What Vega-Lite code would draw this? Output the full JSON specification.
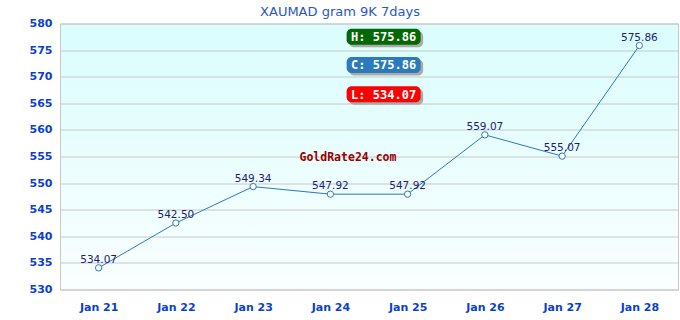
{
  "$schema": "https://vega.github.io/schema/vega-lite/v6.json",
  "width": 618,
  "height": 266,
  "autosize": {"type": "none"},
  "padding": {"left": 60, "top": 23.5, "right": 2, "bottom": 30.5},
  "background": "white",
  "title": {
    "text": "XAUMAD gram 9K 7days",
    "font": "DejaVu Sans",
    "fontSize": 13,
    "fontWeight": "normal",
    "color": "#2a56c6",
    "anchor": "middle",
    "dx": -29,
    "offset": -1
  },
  "config": {
    "view": {
      "stroke": "#c8c8c8",
      "strokeWidth": 1,
      "fill": {
        "gradient": "linear",
        "x1": 0, "y1": 0, "x2": 0, "y2": 1,
        "stops": [
          {"offset": 0, "color": "#dafdfd"},
          {"offset": 1, "color": "#fafefe"}
        ]
      }
    },
    "axis": {
      "labelFont": "DejaVu Sans",
      "labelFontSize": 11,
      "labelFontWeight": "bold",
      "labelColor": "#0b3fcc",
      "domain": false,
      "gridColor": "#c8c8c8",
      "gridOpacity": 1,
      "ticks": false,
      "title": null
    },
    "axisX": {"grid": false, "labelAngle": 0, "labelPadding": 12},
    "axisY": {"grid": true, "labelPadding": 8}
  },
  "resolve": {"axis": {"x": "independent", "y": "independent"}},
  "datasets": {
    "prices": [
      {"date": "Jan 21", "price": 534.07},
      {"date": "Jan 22", "price": 542.50},
      {"date": "Jan 23", "price": 549.34},
      {"date": "Jan 24", "price": 547.92},
      {"date": "Jan 25", "price": 547.92},
      {"date": "Jan 26", "price": 559.07},
      {"date": "Jan 27", "price": 555.07},
      {"date": "Jan 28", "price": 575.86}
    ],
    "badges": [
      {"date": "Jan 25", "key": "H", "label": "H: 575.86"},
      {"date": "Jan 25", "key": "C", "label": "C: 575.86"},
      {"date": "Jan 25", "key": "L", "label": "L: 534.07"}
    ],
    "watermark": [{"date": "Jan 24", "label": "GoldRate24.com"}]
  },
  "layer": [
    {
      "data": {"name": "prices"},
      "encoding": {
        "x": {
          "field": "date",
          "type": "ordinal",
          "sort": null,
          "scale": {"type": "point", "padding": 0.5}
        },
        "y": {
          "field": "price",
          "type": "quantitative",
          "scale": {"domain": [530, 580], "nice": false, "zero": false},
          "axis": {"values": [530, 535, 540, 545, 550, 555, 560, 565, 570, 575, 580]}
        }
      },
      "layer": [
        {"mark": {"type": "line", "color": "#2a7ab8", "strokeWidth": 1}},
        {"mark": {"type": "point", "shape": "circle", "filled": true, "fill": "white", "stroke": "#2a7ab8", "strokeWidth": 1, "size": 40, "opacity": 1}},
        {
          "mark": {"type": "text", "baseline": "bottom", "dy": -3, "font": "DejaVu Sans", "fontSize": 10.5, "color": "#1c1c7a"},
          "encoding": {"text": {"field": "price", "type": "quantitative", "format": ".2f"}}
        }
      ]
    },
    {
      "data": {"name": "watermark"},
      "mark": {"type": "text", "font": "DejaVu Sans Mono", "fontWeight": "bold", "fontSize": 11.5, "color": "#990000", "dx": 17.6, "baseline": "middle"},
      "encoding": {
        "x": {"field": "date", "type": "ordinal", "sort": null, "axis": null},
        "y": {"datum": 554.8, "axis": null},
        "text": {"field": "label"}
      }
    },
    {
      "data": {"name": "badges"},
      "transform": [{"filter": "datum.key === 'H'"}],
      "encoding": {"x": {"field": "date", "type": "ordinal", "sort": null, "axis": null}, "y": {"datum": 577.5, "axis": null}},
      "layer": [
        {"mark": {"type": "rect", "width": 74, "height": 16, "cornerRadius": 5, "color": "#aaaaaa", "xOffset": -21.5, "yOffset": 2.5}},
        {"mark": {"type": "rect", "width": 74, "height": 16, "cornerRadius": 5, "color": "#036803", "xOffset": -24}},
        {"mark": {"type": "text", "font": "DejaVu Sans Mono", "fontWeight": "bold", "fontSize": 12, "color": "white", "baseline": "middle", "dx": -24, "dy": 0.5}, "encoding": {"text": {"field": "label"}}}
      ]
    },
    {
      "data": {"name": "badges"},
      "transform": [{"filter": "datum.key === 'C'"}],
      "encoding": {"x": {"field": "date", "type": "ordinal", "sort": null, "axis": null}, "y": {"datum": 572.2, "axis": null}},
      "layer": [
        {"mark": {"type": "rect", "width": 74, "height": 16, "cornerRadius": 5, "color": "#aaaaaa", "xOffset": -21.5, "yOffset": 2.5}},
        {"mark": {"type": "rect", "width": 74, "height": 16, "cornerRadius": 5, "color": "#2b7bba", "xOffset": -24}},
        {"mark": {"type": "text", "font": "DejaVu Sans Mono", "fontWeight": "bold", "fontSize": 12, "color": "white", "baseline": "middle", "dx": -24, "dy": 0.5}, "encoding": {"text": {"field": "label"}}}
      ]
    },
    {
      "data": {"name": "badges"},
      "transform": [{"filter": "datum.key === 'L'"}],
      "encoding": {"x": {"field": "date", "type": "ordinal", "sort": null, "axis": null}, "y": {"datum": 566.7, "axis": null}},
      "layer": [
        {"mark": {"type": "rect", "width": 74, "height": 16, "cornerRadius": 5, "color": "#aaaaaa", "xOffset": -21.5, "yOffset": 2.5}},
        {"mark": {"type": "rect", "width": 74, "height": 16, "cornerRadius": 5, "color": "#ff0000", "xOffset": -24}},
        {"mark": {"type": "text", "font": "DejaVu Sans Mono", "fontWeight": "bold", "fontSize": 12, "color": "white", "baseline": "middle", "dx": -24, "dy": 0.5}, "encoding": {"text": {"field": "label"}}}
      ]
    }
  ]
}
